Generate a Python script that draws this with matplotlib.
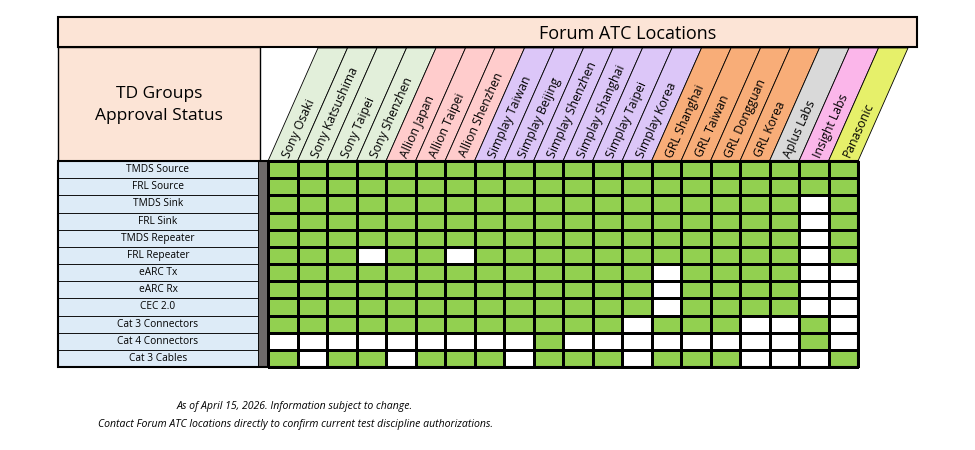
import matplotlib
matplotlib.use("Agg")
import matplotlib.pyplot as plt
import numpy as np
from matplotlib.patches import Polygon, Rectangle

plt.rcParams['font.family'] = ['Open Sans', 'DejaVu Sans']

locations = ["Sony Osaki", "Sony Katsushima", "Sony Taipei", "Sony Shenzhen",
             "Allion Japan", "Allion Taipei", "Allion Shenzhen",
             "Simplay Taiwan", "Simplay Beijing", "Simplay Shenzhen", "Simplay Shanghai",
             "Simplay Taipei", "Simplay Korea",
             "GRL Shanghai", "GRL Taiwan", "GRL Dongguan", "GRL Korea",
             "Aplus Labs", "Insight Labs", "Panasonic"]
header_colors = ["#E2EFDA"] * 4 + ["#FFCCCC"] * 3 + ["#DCC6F8"] * 6 + ["#F8AD78"] * 4 + \
                ["#D9D9D9", "#FBB6EA", "#E6F06A"]
groups = ["TMDS Source", "FRL Source", "TMDS Sink", "FRL Sink", "TMDS Repeater",
          "FRL Repeater", "eARC Tx", "eARC Rx", "CEC 2.0", "Cat 3 Connectors",
          "Cat 4 Connectors", "Cat 3 Cables"]
approved = [
    [1]*20,
    [1]*20,
    [1]*18 + [0, 1],
    [1]*18 + [0, 1],
    [1]*18 + [0, 1],
    [1, 1, 1, 0, 1, 1, 0] + [1]*11 + [0, 1],
    [1]*13 + [0] + [1]*4 + [0, 0],
    [1]*13 + [0] + [1]*4 + [0, 0],
    [1]*13 + [0] + [1]*4 + [0, 0],
    [1]*12 + [0] + [1]*3 + [0, 0, 1, 0],
    [0]*9 + [1] + [0]*8 + [1, 0],
    [1, 0, 1, 1, 0, 1, 1, 1, 0, 1, 1, 1, 0, 1, 1, 1, 0, 0, 0, 1],
]

fig = plt.figure(figsize=(9.75, 4.5), dpi=100)
ax = fig.add_axes([0, 0, 1, 1])
ax.set_xlim(0, 975)
ax.set_ylim(450, 0)
ax.axis('off')

x0, x1 = 268, 858
y0, y1 = 161, 367
ncol, nrow = len(locations), len(groups)
xe = np.linspace(x0, x1, ncol + 1)
ye = np.linspace(y0, y1, nrow + 1)
cw = xe[1] - xe[0]
rh = ye[1] - ye[0]

ax.add_patch(Rectangle((58, 17), 859, 30, facecolor="#FCE4D6", edgecolor="black", lw=1.5, zorder=1))
ax.add_patch(Rectangle((58, 47), 202, 114, facecolor="#FCE4D6", edgecolor="black", lw=1, zorder=1))
ax.text(628, 34, "Forum ATC Locations", ha="center", va="center", fontsize=13)
ax.text(159, 105, "TD Groups\nApproval Status", ha="center", va="center", fontsize=12.5, linespacing=1.5)

top_y = 48
shift = 50
for i, (name, col) in enumerate(zip(locations, header_colors)):
    xl, xr = xe[i], xe[i + 1]
    poly = Polygon([(xl, y0), (xr, y0), (xr + shift, top_y), (xl + shift, top_y)],
                   closed=True, facecolor=col, edgecolor="black", lw=0.6, zorder=2)
    ax.add_patch(poly)
    ax.text(xl + cw / 2 + 3, y0 - 4, name, rotation=66, rotation_mode="anchor",
            ha="left", va="center", fontsize=8.8, zorder=3)

for j, g in enumerate(groups):
    ax.add_patch(Rectangle((58, ye[j]), 200, rh, facecolor="#DDEBF7", edgecolor="black", lw=0.6))
    ax.text(158, ye[j] + rh / 2, g, ha="center", va="center", fontsize=7.3)
ax.add_patch(Rectangle((258, y0), 10, y1 - y0, facecolor="#6E6A6A", edgecolor="black", lw=0.6))

data = np.array(approved)
cmap = matplotlib.colors.ListedColormap(["white", "#92D050"])
ax.pcolormesh(xe, ye, data, cmap=cmap, vmin=0, vmax=1, edgecolors="black", linewidth=0.8, zorder=2)
ax.add_patch(Rectangle((58, y0), x1 - 58, y1 - y0, fill=False, edgecolor="black", lw=1.5, zorder=4))

ax.text(295, 406, "As of April 15, 2026. Information subject to change.", ha="center",
        va="center", fontsize=7.6, style="italic")
ax.text(295, 424, "Contact Forum ATC locations directly to confirm current test discipline authorizations.",
        ha="center", va="center", fontsize=7.6, style="italic")

fig.savefig("out.png", dpi=100)
